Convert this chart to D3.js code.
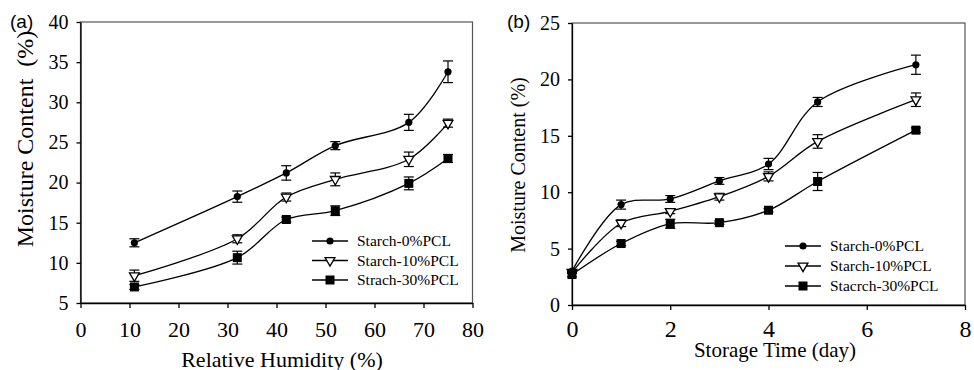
<!DOCTYPE html>
<html>
<head>
<meta charset="utf-8">
<script src="https://cdn.jsdelivr.net/npm/d3@7"></script>
<style>
body { margin: 0; background: #fff; }
</style>
</head>
<body>
<div id="chart"></div>
<script>
'use strict';

// panel (a): moisture vs relative humidity
let humidity = [11, 32, 42, 52, 67, 75];
let rhStarch0 = [12.5, 18.25, 21.2, 24.6, 27.5, 33.8];
let rhStarch0Err = [0.5, 0.7, 0.9, 0.5, 1.0, 1.35];
let rhStarch10 = [8.4, 13.0, 18.2, 20.4, 22.9, 27.4];
let rhStarch10Err = [0.7, 0.5, 0.5, 0.8, 0.9, 0.5];
let rhStarch30 = [7.0, 10.65, 15.4, 16.5, 19.9, 23.0];
let rhStarch30Err = [0.3, 0.8, 0.3, 0.6, 0.8, 0.5];

// panel (b): moisture vs storage time
let days = [0, 1, 2, 3, 4, 5, 7];
let dayStarch0 = [3.0, 8.9, 9.4, 11.0, 12.5, 18.0, 21.3];
let dayStarch0Err = [0.1, 0.4, 0.3, 0.3, 0.5, 0.4, 0.85];
let dayStarch10 = [2.9, 7.25, 8.3, 9.6, 11.4, 14.5, 18.2];
let dayStarch10Err = [0.1, 0.3, 0.2, 0.3, 0.4, 0.6, 0.6];
let dayStarch30 = [2.7, 5.45, 7.2, 7.3, 8.4, 10.95, 15.5];
let dayStarch30Err = [0.2, 0.2, 0.4, 0.15, 0.15, 0.8, 0.2];

let labelsA = ['Starch-0%PCL', 'Starch-10%PCL', 'Strach-30%PCL'];
let labelsB = ['Starch-0%PCL', 'Starch-10%PCL', 'Stacrch-30%PCL'];
let symbols = ['circle', 'triangle', 'square'];

const serif = '"Liberation Serif", "DejaVu Serif", "Times New Roman", serif';

let svg = d3.select('#chart').append('svg')
	.attr('width', 974)
	.attr('height', 370);

function series(xs, ys, es) {
	return xs.map((x, i) => ({x: x, y: ys[i], e: es[i]}));
}

function drawMarker(g, type, cx, cy) {
	if (type === 'circle') {
		g.append('circle').attr('cx', cx).attr('cy', cy).attr('r', 3.6).attr('fill', '#000');
	} else if (type === 'triangle') {
		let s = d3.symbol().type(d3.symbolTriangle).size(42);
		g.append('path').attr('d', s())
			.attr('transform', `translate(${cx},${cy}) rotate(180)`)
			.attr('fill', '#fff').attr('stroke', '#000').attr('stroke-width', 1.3);
	} else {
		g.append('rect').attr('x', cx - 4.5).attr('y', cy - 4.5)
			.attr('width', 9).attr('height', 9).attr('fill', '#000');
	}
}

function panel(opt) {
	let x = opt.x, y = opt.y;
	let g = svg.append('g');

	// frame
	g.append('rect')
		.attr('x', x.range()[0]).attr('y', y.range()[1])
		.attr('width', x.range()[1] - x.range()[0])
		.attr('height', y.range()[0] - y.range()[1])
		.attr('fill', 'none').attr('stroke', '#555').attr('stroke-width', 1.2);

	let line = d3.line().x(d => x(d.x)).y(d => y(d.y)).curve(d3.curveCatmullRom.alpha(0.5));

	opt.data.forEach((ser, k) => {
		g.append('path').datum(ser)
			.attr('d', line)
			.attr('fill', 'none').attr('stroke', '#000').attr('stroke-width', 1.3);
		ser.forEach(d => {
			let cx = x(d.x), t = y(d.y + d.e), b = y(d.y - d.e);
			g.append('line').attr('x1', cx).attr('x2', cx).attr('y1', t).attr('y2', b)
				.attr('stroke', '#000').attr('stroke-width', 1.2);
			[t, b].forEach(yy => g.append('line')
				.attr('x1', cx - 5).attr('x2', cx + 5).attr('y1', yy).attr('y2', yy)
				.attr('stroke', '#000').attr('stroke-width', 1.2));
		});
		ser.forEach(d => drawMarker(g, symbols[k], x(d.x), y(d.y)));
	});

	// axes
	let ax = g.append('g')
		.attr('transform', `translate(0,${y.range()[0]})`)
		.call(d3.axisBottom(x).tickValues(opt.xTicks).tickSize(5).tickSizeOuter(0).tickPadding(opt.xPad));
	ax.selectAll('text').style('font-size', opt.xTickSize + 'px');
	let ay = g.append('g')
		.attr('transform', `translate(${x.range()[0]},0)`)
		.call(d3.axisLeft(y).tickValues(opt.yTicks).tickSize(4).tickSizeOuter(0).tickPadding(8));
	ay.selectAll('text').style('font-size', opt.yTickSize + 'px');
	g.selectAll('.domain, .tick line').attr('stroke', '#000').attr('stroke-width', 1.3);

	// titles
	g.append('text')
		.attr('x', opt.xTitle[0]).attr('y', opt.xTitle[1])
		.attr('text-anchor', 'middle')
		.style('font-size', opt.xTitle[2] + 'px')
		.text(opt.xTitle[3]);
	g.append('text')
		.attr('transform', `translate(${opt.yTitle[0]},${opt.yTitle[1]}) rotate(-90)`)
		.attr('text-anchor', 'middle')
		.style('font-size', opt.yTitle[2] + 'px')
		.style('white-space', 'pre')
		.text(opt.yTitle[3]);

	// legend
	let lg = g.append('g');
	opt.legendY.forEach((ly, k) => {
		lg.append('line').attr('x1', opt.legendX).attr('x2', opt.legendX + 36)
			.attr('y1', ly).attr('y2', ly).attr('stroke', '#000').attr('stroke-width', 1.3);
		drawMarker(lg, symbols[k], opt.legendX + 18, ly);
		lg.append('text').attr('x', opt.legendX + 45).attr('y', ly).attr('dy', '0.35em')
			.style('font-size', '15.5px').text(opt.labels[k]);
	});

	g.selectAll('text').style('font-family', serif).attr('fill', '#000');

	g.append('text')
		.attr('x', opt.tag[0]).attr('y', opt.tag[1])
		.style('font-family', '"Liberation Sans", Arial, sans-serif')
		.style('font-size', '19px')
		.text(opt.tag[2]);
}

panel({
	x: d3.scaleLinear([0, 80], [80.5, 472.5]),
	y: d3.scaleLinear([5, 40], [303, 22]),
	data: [series(humidity, rhStarch0, rhStarch0Err),
		series(humidity, rhStarch10, rhStarch10Err),
		series(humidity, rhStarch30, rhStarch30Err)],
	xTicks: d3.range(0, 81, 10),
	yTicks: d3.range(5, 41, 5),
	xPad: 13, xTickSize: 22, yTickSize: 20,
	xTitle: [282, 367, 22, 'Relative Humidity (%)'],
	yTitle: [33, 139, 24, 'Moisture Content  (%)'],
	tag: [10, 28, '(a)'],
	legendX: 312, legendY: [241, 260.5, 280],
	labels: labelsA
});

panel({
	x: d3.scaleLinear([0, 8], [572, 965]),
	y: d3.scaleLinear([0, 25], [305, 23]),
	data: [series(days, dayStarch0, dayStarch0Err),
		series(days, dayStarch10, dayStarch10Err),
		series(days, dayStarch30, dayStarch30Err)],
	xTicks: d3.range(0, 9, 2),
	yTicks: d3.range(0, 26, 5),
	xPad: 10, xTickSize: 24, yTickSize: 20,
	xTitle: [775, 357, 21, 'Storage Time (day)'],
	yTitle: [525, 165, 20, 'Moisture Content (%)'],
	tag: [507, 28, '(b)'],
	legendX: 785, legendY: [246, 266, 286],
	labels: labelsB
});
</script>
</body>
</html>
